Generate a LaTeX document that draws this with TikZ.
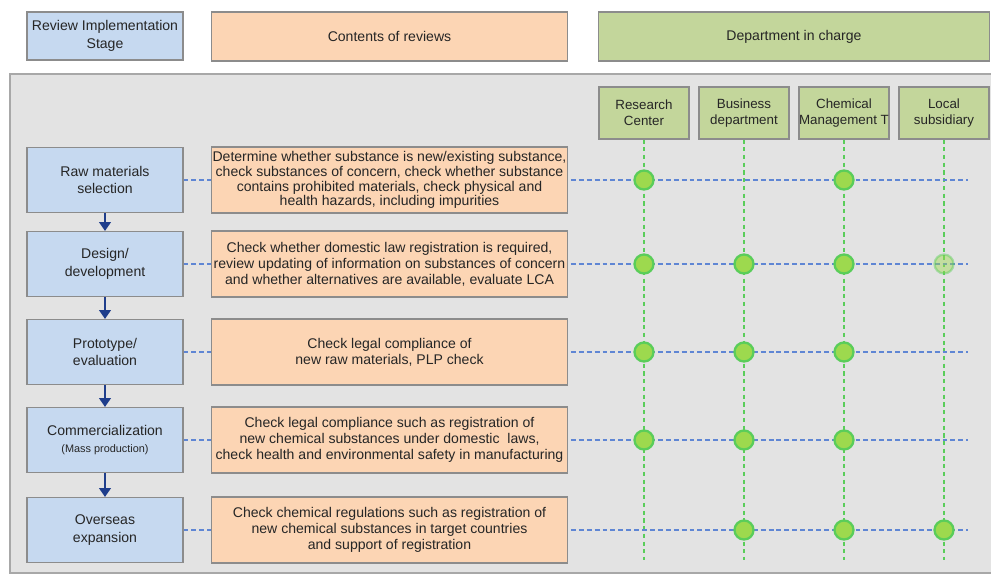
\documentclass[tikz,border=0pt]{standalone}
\usepackage{fontspec}
\setmainfont{Liberation Sans}
\usetikzlibrary{arrows.meta,backgrounds}

\definecolor{stageblue}{HTML}{C6D9F0}
\definecolor{revieworange}{HTML}{FCD5B4}
\definecolor{deptgreen}{HTML}{C3D69B}
\definecolor{panelgray}{HTML}{E3E3E3}
\definecolor{panelline}{HTML}{A8A8A8}
\definecolor{boxline}{HTML}{8C8C8C}
\definecolor{rowblue}{HTML}{5F86D4}
\definecolor{colgreen}{HTML}{5ACD5A}
\definecolor{dotfill}{HTML}{9DD94E}
\definecolor{arrowblue}{HTML}{1F3E8C}

\tikzset{
	box/.style={draw=boxline, line width=0.6pt, align=center, inner sep=0pt, text=black!85},
	stagebox/.style={box, fill=stageblue, minimum width=3.12cm, minimum height=1.3cm,
		font=\fontsize{8}{10}\selectfont},
	reviewbox/.style={box, fill=revieworange, minimum width=7.14cm, minimum height=1.32cm,
		font=\fontsize{8}{9}\selectfont},
	deptbox/.style={box, fill=deptgreen, minimum width=1.8cm, minimum height=1.04cm,
		font=\fontsize{7.6}{9}\selectfont},
	rowline/.style={rowblue, line width=0.85pt, dash pattern=on 2.8pt off 1.7pt},
	colline/.style={colgreen, line width=0.8pt, dash pattern=on 2.4pt off 2pt},
	dot/.style={circle, fill=dotfill, draw=colgreen, line width=1.3pt, minimum size=0.38cm, inner sep=0pt},
	flow/.style={arrowblue, line width=1.2pt, -{Triangle[length=5pt, width=6.5pt]}}
}

\begin{document}
\begin{tikzpicture}[x=0.02cm, y=-0.02cm]
	\useasboundingbox (0,0) rectangle (991,575);

	% column headers
	\node[stagebox, minimum height=0.96cm] (hstage) at (105,36) {Review Implementation\\Stage};
	\node[reviewbox, minimum height=0.98cm] (hreview) at (389.5,36.5) {Contents of reviews};
	\node[box, fill=deptgreen, minimum width=7.84cm, minimum height=0.98cm,
		font=\fontsize{8}{10}\selectfont] (hdept) at (794,36.5) {Department in charge};

	% departments
	\node[deptbox] (d1) at (644,113) {Research\\Center};
	\node[deptbox] (d2) at (744,113) {Business\\department};
	\node[deptbox] (d3) at (844,113) {Chemical\\Management T};
	\node[deptbox] (d4) at (944,113) {Local\\subsidiary};

	% stages
	\node[stagebox] (s1) at (105,180) {Raw materials\\selection};
	\node[stagebox] (s2) at (105,264) {Design/\\development};
	\node[stagebox] (s3) at (105,352) {Prototype/\\evaluation};
	\node[stagebox] (s4) at (105,440) {Commercialization\\{\fontsize{6.2}{8}\selectfont(Mass production)}};
	\node[stagebox] (s5) at (105,530) {Overseas\\expansion};

	% contents of reviews
	\node[reviewbox, font=\fontsize{8}{8.4}\selectfont] (c1) at (389.5,180) {Determine whether substance is new/existing substance,\\check substances of concern, check whether substance\\contains prohibited materials, check physical and\\health hazards, including impurities};
	\node[reviewbox] (c2) at (389.5,264) {Check whether domestic law registration is required,\\review updating of information on substances of concern\\and whether alternatives are available, evaluate LCA};
	\node[reviewbox] (c3) at (389.5,352) {Check legal compliance of\\new raw materials, PLP check};
	\node[reviewbox] (c4) at (389.5,440) {Check legal compliance such as registration of\\new chemical substances under domestic\ \ laws,\\check health and environmental safety in manufacturing};
	\node[reviewbox] (c5) at (389.5,530) {Check chemical regulations such as registration of\\new chemical substances in target countries\\and support of registration};

	\begin{pgfonlayer}{background}
		\draw[panelline, line width=1.4pt, fill=panelgray] (10,74) rectangle (1000,573);
		\foreach \c in {1,...,4}
		{
			\coordinate (cend\c) at (d\c |- 0,560);
			\draw[colline] (d\c.south) -- (cend\c);
		}
		\foreach \r in {1,...,5}
		{
			\coordinate (rend\r) at (968,0 |- s\r);
			\draw[rowline] (s\r.east) -- (rend\r);
		}
	\end{pgfonlayer}

	% who takes part in each stage
	\foreach \r/\c in {1/1,1/3,2/1,2/2,2/3,3/1,3/2,3/3,4/1,4/2,4/3,5/2,5/3,5/4}
	{
		\node[dot] (dot\r\c) at (d\c |- s\r) {};
	}
	\node[dot, opacity=0.45] (dot24) at (d4 |- s2) {};

	\draw[flow] (s1) -- (s2);
	\draw[flow] (s2) -- (s3);
	\draw[flow] (s3) -- (s4);
	\draw[flow] (s4) -- (s5);
\end{tikzpicture}
\end{document}
